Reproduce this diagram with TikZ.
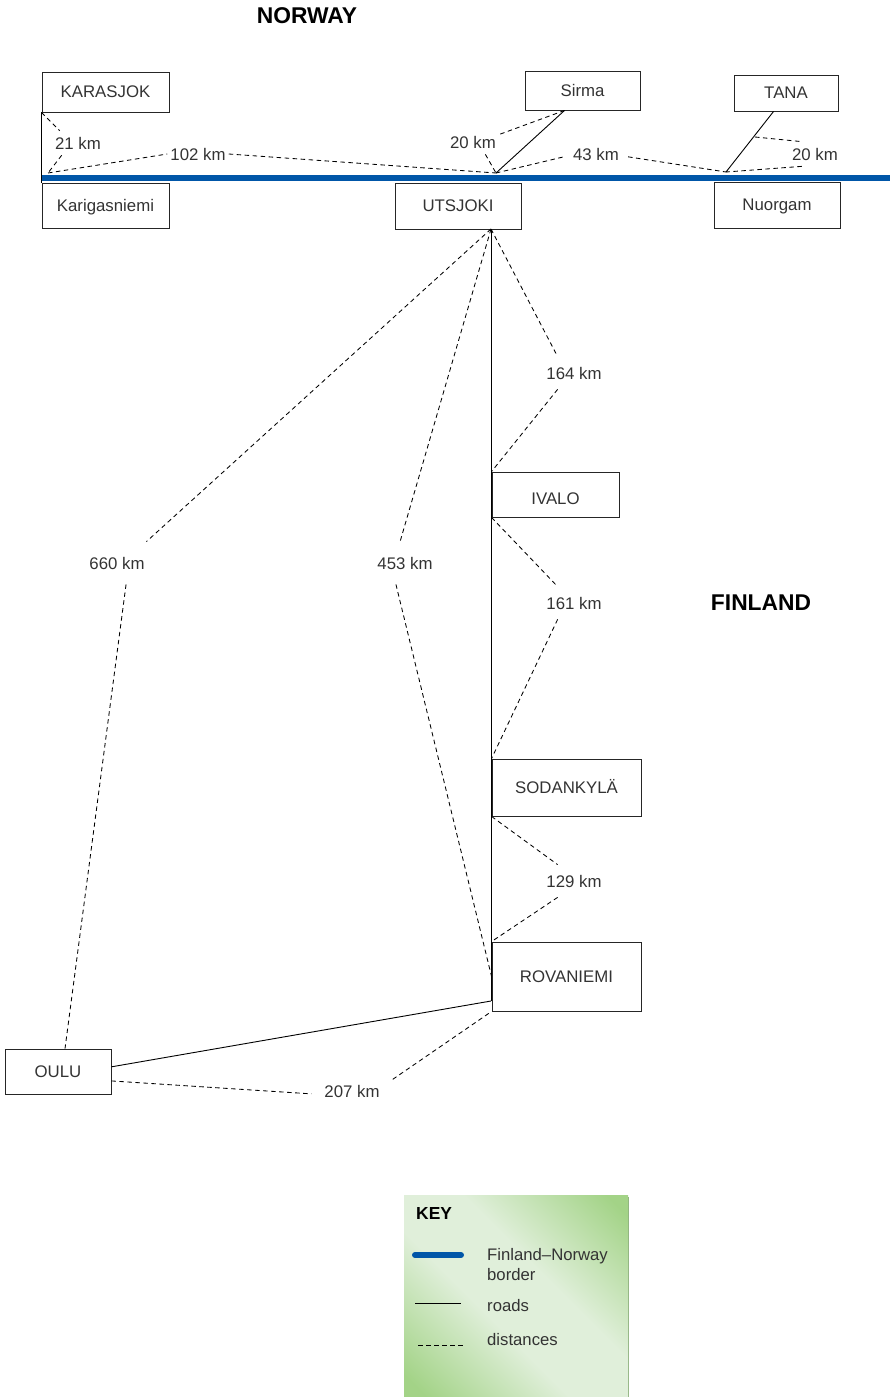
\documentclass[tikz,border=0pt]{standalone}
\usepackage{fontspec}
\setmainfont{Liberation Sans}
\definecolor{borderblue}{HTML}{0056A8}
\definecolor{labelgrey}{HTML}{333333}
\definecolor{keygreen}{HTML}{A3D387}
\definecolor{keylight}{HTML}{E0EFDA}
\definecolor{keyshadow}{HTML}{8FB27F}
\pgfdeclarehorizontalshading{keyshade}{100bp}{color(0bp)=(keygreen); color(18bp)=(keygreen); color(42bp)=(keylight); color(58bp)=(keylight); color(82bp)=(keygreen); color(100bp)=(keygreen)}
\tikzset{
  placebox/.style={draw=black!85, line width=0.9pt, inner sep=0pt, text=labelgrey, text height=11pt, text depth=0pt, font=\fontsize{16.8}{20}\selectfont},
  km/.style={inner xsep=3pt, inner ysep=6pt, text=labelgrey, font=\fontsize{16.8}{20}\selectfont},
  kmtall/.style={km, inner ysep=10pt},
  road/.style={black, line width=0.9pt},
  dist/.style={black, line width=0.85pt, dash pattern=on 4.5pt off 3.5pt},
  frontier/.style={borderblue, line width=6pt},
  country/.style={font=\fontsize{22.8}{26}\selectfont\bfseries},
  keytext/.style={anchor=west, inner sep=0pt, text=labelgrey, align=left, font=\fontsize{16.7}{20}\selectfont}
}
\begin{document}
\begin{tikzpicture}[x=1pt, y=-1pt]
\useasboundingbox (0,0) rectangle (892,1397);
\node[country] (NORWAY) at (307,16) {NORWAY};
\node[country] (FINLAND) at (761,603) {FINLAND};
\node[placebox, minimum width=127pt, minimum height=40pt] (KARASJOK) at (105.5,92) {KARASJOK};
\node[placebox, minimum width=127pt, minimum height=45pt] (KARIGASNIEMI) at (105.5,205.5) {Karigasniemi};
\node[placebox, minimum width=126pt, minimum height=46pt] (UTSJOKI) at (458,206) {UTSJOKI};
\node[placebox, minimum width=115pt, minimum height=39pt] (SIRMA) at (582.5,90.5) {Sirma};
\node[placebox, minimum width=104pt, minimum height=36pt] (TANA) at (786,93) {TANA};
\node[placebox, minimum width=126pt, minimum height=46pt] (NUORGAM) at (777,205) {Nuorgam};
\node[placebox, minimum width=127pt, minimum height=45pt, text height=20pt] (IVALO) at (555.5,494.5) {IVALO};
\node[placebox, minimum width=149pt, minimum height=57pt] (SODANKYLA) at (566.5,787.5) {SODANKYLÄ};
\node[placebox, minimum width=149pt, minimum height=69pt] (ROVANIEMI) at (566.5,976.5) {ROVANIEMI};
\node[placebox, minimum width=106pt, minimum height=45pt] (OULU) at (58,1071.5) {OULU};
\node[km] (KM21) at (78,143) {21 km};
\node[km] (KM102) at (198,154) {102 km};
\node[km] (KM20S) at (473,142) {20 km};
\node[km, inner xsep=9pt] (KM43) at (596,154) {43 km};
\node[km] (KM20T) at (815,154) {20 km};
\node[kmtall] (KM164) at (574,373) {164 km};
\node[kmtall] (KM161) at (574,603) {161 km};
\node[kmtall] (KM129) at (574,881) {129 km};
\node[km, inner ysep=15pt] (KM660) at (117,563) {660 km};
\node[km, inner ysep=15pt] (KM453) at (405,563) {453 km};
\node[km, inner xsep=13pt] (KM207) at (352,1091) {207 km};
\coordinate (borderW) at (42,178);
\coordinate (borderE) at (890,178);
\coordinate (karigasCross) at (48,173);
\coordinate (utsCross) at (496,173);
\coordinate (nuorgamCross) at (726,172);
\coordinate (tanaBend) at (755,137);
\coordinate (utsSouth) at (491,229);
\coordinate (rovaRoad) at (491,1001);
\draw[road] (KARASJOK.south west) -- (KARIGASNIEMI.north west);
\draw[road] (SIRMA.-132) -- (utsCross);
\draw[road] (TANA.-124) -- (nuorgamCross);
\draw[road] (utsSouth) -- (rovaRoad);
\draw[road] (OULU.5) -- (rovaRoad);
\draw[dist] (KARASJOK.south west) -- (KM21.146);
\draw[dist] (KM21.-143) -- (karigasCross);
\draw[dist] (karigasCross) -- (KM102.west);
\draw[dist] (KM102.east) -- (utsCross);
\draw[dist] (SIRMA.-132) -- (KM20S.16);
\draw[dist] (KM20S.-45) -- (utsCross);
\draw[dist] (utsCross) -- (KM43.185);
\draw[dist] (KM43.355) -- (nuorgamCross);
\draw[dist] (tanaBend) -- (KM20T.137);
\draw[dist] (KM20T.-137) -- (nuorgamCross);
\draw[dist] (utsSouth) -- (KM164.135);
\draw[dist] (KM164.225) -- (IVALO.north west);
\draw[dist] (IVALO.south west) -- (KM161.135);
\draw[dist] (KM161.225) -- (SODANKYLA.north west);
\draw[dist] (SODANKYLA.south west) -- (KM129.135);
\draw[dist] (KM129.225) -- (ROVANIEMI.north west);
\draw[dist] (utsSouth) -- (KM660.36);
\draw[dist] (KM660.-67) -- (OULU.73);
\draw[dist] (utsSouth) -- (KM453.103);
\draw[dist] (KM453.247) -- (ROVANIEMI.west);
\draw[dist] (OULU.-10) -- (KM207.184);
\draw[dist] (KM207.16) -- (ROVANIEMI.south west);
\draw[frontier] (borderW) -- (borderE);
\fill[keyshadow] (406,1197) rectangle (629,1397);
\shade[shading=keyshade, shading angle=45] (404,1195) rectangle (628,1396);
\node[anchor=west, inner sep=0pt, font=\fontsize{17.4}{20}\selectfont\bfseries] (KEY) at (416,1213) {KEY};
\node[keytext] (KEYBORDER) at (487,1265) {Finland–Norway\\border};
\node[keytext] (KEYROADS) at (487,1306) {roads};
\node[keytext] (KEYDIST) at (487,1340) {distances};
\coordinate (keyBorderA) at (415,1255);
\coordinate (keyBorderB) at (461,1255);
\coordinate (keyRoadA) at (415,1303);
\coordinate (keyRoadB) at (461,1303);
\coordinate (keyDistA) at (418,1345);
\coordinate (keyDistB) at (466,1345);
\draw[frontier, line cap=round] (keyBorderA) -- (keyBorderB);
\draw[road] (keyRoadA) -- (keyRoadB);
\draw[dist] (keyDistA) -- (keyDistB);
\end{tikzpicture}
\end{document}
